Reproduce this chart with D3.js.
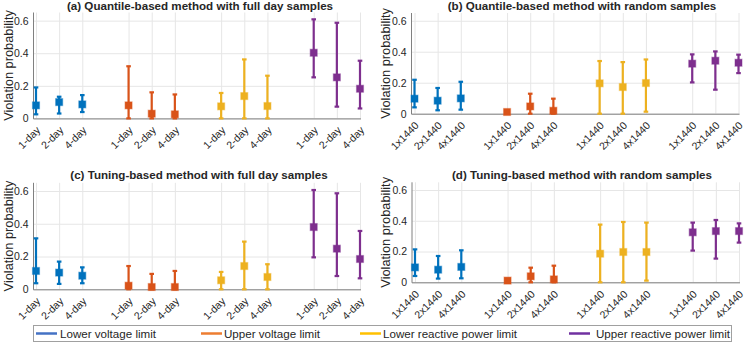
<!DOCTYPE html>
<html>
<head>
<meta charset="utf-8">
<script src="https://cdn.jsdelivr.net/npm/d3@7"></script>
<style>
  body { margin: 0; background: #fff; }
  text { font-family: "Liberation Sans", Arial, Helvetica, sans-serif; fill: #262626; }
</style>
</head>
<body>
<script>
// ---- data ----
var seriesNames = ["Lower voltage limit", "Upper voltage limit", "Lower reactive power limit", "Upper reactive power limit"];
var dayLabels = ["1-day", "2-day", "4-day"];
var sampleLabels = ["1x1440", "2x1440", "4x1440"];
var positions = [1, 2, 3, 5, 6, 7, 9, 10, 11, 13, 14, 15];
var yTicks = [0, 0.2, 0.4, 0.6];
var titles = [
    "(a) Quantile-based method with full day samples",
    "(b) Quantile-based method with random samples",
    "(c) Tuning-based method with full day samples",
    "(d) Tuning-based method with random samples"
];

// (a) quantile, full day
var aMean = [0.080, 0.100, 0.086, 0.080, 0.029, 0.025, 0.074, 0.137, 0.076, 0.403, 0.252, 0.182];
var aLow  = [0.025, 0.030, 0.039, 0.000, 0.000, 0.000, 0.000, 0.000, 0.000, 0.252, 0.072, 0.061];
var aHigh = [0.190, 0.133, 0.143, 0.320, 0.160, 0.147, 0.156, 0.362, 0.262, 0.608, 0.587, 0.354];
// (b) quantile, random
var bMean = [0.097, 0.084, 0.099, 0.011, 0.047, 0.019, 0.196, 0.172, 0.198, 0.323, 0.342, 0.329];
var bLow  = [0.041, 0.022, 0.026, 0.005, 0.000, 0.000, 0.000, 0.000, 0.013, 0.202, 0.155, 0.262];
var bHigh = [0.219, 0.166, 0.206, 0.015, 0.129, 0.097, 0.340, 0.333, 0.350, 0.383, 0.402, 0.381];
// (c) tuning, full day
var cMean = [0.112, 0.102, 0.083, 0.022, 0.014, 0.014, 0.055, 0.142, 0.075, 0.380, 0.248, 0.185];
var cLow  = [0.037, 0.033, 0.037, 0.000, 0.000, 0.000, 0.000, 0.000, 0.000, 0.195, 0.081, 0.067];
var cHigh = [0.311, 0.169, 0.134, 0.142, 0.094, 0.112, 0.106, 0.291, 0.153, 0.606, 0.586, 0.356];
// (d) tuning, random
var dMean = [0.097, 0.082, 0.100, 0.011, 0.039, 0.019, 0.186, 0.197, 0.197, 0.325, 0.333, 0.333];
var dLow  = [0.041, 0.024, 0.026, 0.005, 0.000, 0.000, 0.000, 0.000, 0.011, 0.206, 0.154, 0.258];
var dHigh = [0.214, 0.171, 0.208, 0.015, 0.095, 0.108, 0.375, 0.392, 0.388, 0.388, 0.405, 0.383];

var markColors = ["#0072BD", "#D95319", "#EDB120", "#7E2F8E"];
var legendColors = ["#4472C4", "#ED7D31", "#FFC000", "#7030A0"];

var panels = [
    { mean: aMean, low: aLow, high: aHigh, labels: dayLabels },
    { mean: bMean, low: bLow, high: bHigh, labels: sampleLabels },
    { mean: cMean, low: cLow, high: cHigh, labels: dayLabels },
    { mean: dMean, low: dLow, high: dHigh, labels: sampleLabels }
];

// pixel layout of each subplot
var layout = [
    { left: 33.5, x1: 36, x15: 360, y0: 118.4, top: 12.5, titleX: 200, titleY: 9.5, ylabX: 8.7 },
    { left: 411.5, x1: 414.5, x15: 738.5, y0: 113.7, top: 13, titleX: 582, titleY: 9.5, ylabX: 385.5 },
    { left: 33.5, x1: 36, x15: 360, y0: 289.3, top: 182.8, titleX: 199, titleY: 178.5, ylabX: 8.7 },
    { left: 412, x1: 415, x15: 739, y0: 282.3, top: 182.3, titleX: 582, titleY: 178.5, ylabX: 385.5 }
];

var svg = d3.select("body").append("svg")
    .attr("width", 747)
    .attr("height", 343);

panels.forEach(function (p, i) {
    var L = layout[i];
    var x = d3.scaleLinear().domain([1, 15]).range([L.x1, L.x15]);
    var y = d3.scaleLinear().domain([0, 0.65]).range([L.y0, L.top]);
    var g = svg.append("g");

    // grid lines
    g.append("g")
        .attr("transform", "translate(0," + L.y0 + ")")
        .call(d3.axisBottom(x).tickValues(positions).tickSize(-(L.y0 - L.top)).tickFormat(""))
        .call(function (s) { s.select(".domain").remove(); })
        .selectAll("line").attr("stroke", "#e6e6e6");
    g.append("g")
        .attr("transform", "translate(" + L.left + ",0)")
        .call(d3.axisLeft(y).tickValues(yTicks).tickSize(-(L.x15 + 1 - L.left)).tickFormat(""))
        .call(function (s) { s.select(".domain").remove(); })
        .selectAll("line").attr("stroke", "#e6e6e6");

    // axis lines
    g.append("line")
        .attr("x1", L.left).attr("x2", L.left)
        .attr("y1", L.top).attr("y2", L.y0 + 0.5)
        .attr("stroke", "#808080");
    g.append("line")
        .attr("x1", L.left).attr("x2", L.x15 + 1)
        .attr("y1", L.y0 + 0.5).attr("y2", L.y0 + 0.5)
        .attr("stroke", "#808080");

    // y tick labels
    var ya = g.append("g")
        .attr("transform", "translate(" + L.left + ",0)")
        .call(d3.axisLeft(y).tickValues(yTicks).tickSize(0).tickPadding(5)
            .tickFormat(function (d) { return d === 0 ? "0" : d3.format(".1f")(d); }));
    ya.select(".domain").remove();
    ya.selectAll("text").style("font-size", "10.5px").attr("fill", "#262626")
        .style("font-family", "'Liberation Sans', Arial, sans-serif");

    // x tick labels (rotated)
    var xa = g.append("g")
        .attr("transform", "translate(0," + L.y0 + ")")
        .call(d3.axisBottom(x).tickValues(positions).tickSize(0)
            .tickFormat(function (d, k) { return p.labels[k % 3]; }));
    xa.select(".domain").remove();
    xa.selectAll("text")
        .style("font-size", "10.5px").attr("fill", "#262626")
        .style("font-family", "'Liberation Sans', Arial, sans-serif")
        .attr("y", 0).attr("dy", 0)
        .attr("text-anchor", "end")
        .attr("transform", "translate(4.5,12.5) rotate(-45)");

    // error bars
    var bars = g.selectAll(".eb")
        .data(positions.map(function (pos, k) {
            return { pos: pos, mean: p.mean[k], low: p.low[k], high: p.high[k], c: markColors[Math.floor(k / 3)] };
        }))
        .enter().append("g");
    bars.append("line")
        .attr("x1", function (d) { return x(d.pos); })
        .attr("x2", function (d) { return x(d.pos); })
        .attr("y1", function (d) { return y(d.low); })
        .attr("y2", function (d) { return y(d.high); })
        .attr("stroke", function (d) { return d.c; })
        .attr("stroke-width", 2.2);
    ["low", "high"].forEach(function (key) {
        bars.append("line")
            .attr("x1", function (d) { return x(d.pos) - 2.3; })
            .attr("x2", function (d) { return x(d.pos) + 2.3; })
            .attr("y1", function (d) { return y(d[key]); })
            .attr("y2", function (d) { return y(d[key]); })
            .attr("stroke", function (d) { return d.c; })
            .attr("stroke-width", 2.2);
    });
    bars.append("rect")
        .attr("x", function (d) { return x(d.pos) - 3.5; })
        .attr("y", function (d) { return y(d.mean) - 3.5; })
        .attr("width", 7).attr("height", 7)
        .attr("fill", function (d) { return d.c; })
        .attr("stroke", function (d) { return d.c; })
        .attr("stroke-opacity", 0.4)
        .attr("stroke-width", 1.2);

    // title
    g.append("text")
        .attr("x", L.titleX).attr("y", L.titleY)
        .attr("text-anchor", "middle")
        .style("font-size", "11.6px")
        .style("font-weight", "bold")
        .attr("fill", "#000")
        .text(titles[i]);

    // y label
    g.append("text")
        .attr("transform", "translate(" + L.ylabX + "," + ((L.y0 + L.top) / 2) + ") rotate(-90)")
        .attr("dy", "0.35em")
        .attr("text-anchor", "middle")
        .style("font-size", "12.8px")
        .text("Violation probability");
});

// legend
var legendLineX = [36, 201, 360, 569];
var legendTextX = [60, 224, 383, 596];
var leg = svg.append("g");
leg.append("rect")
    .attr("x", 33.5).attr("y", 325.5)
    .attr("width", 698).attr("height", 16)
    .attr("fill", "#fff")
    .attr("stroke", "#a0a0a0");
seriesNames.forEach(function (name, i) {
    leg.append("line")
        .attr("x1", legendLineX[i]).attr("x2", legendLineX[i] + 21)
        .attr("y1", 333.5).attr("y2", 333.5)
        .attr("stroke", legendColors[i])
        .attr("stroke-width", 2.5);
    leg.append("text")
        .attr("x", legendTextX[i]).attr("y", 333.5)
        .attr("dy", "0.35em")
        .style("font-size", "11.6px")
        .attr("fill", "#000")
        .text(name);
});
</script>
</body>
</html>
